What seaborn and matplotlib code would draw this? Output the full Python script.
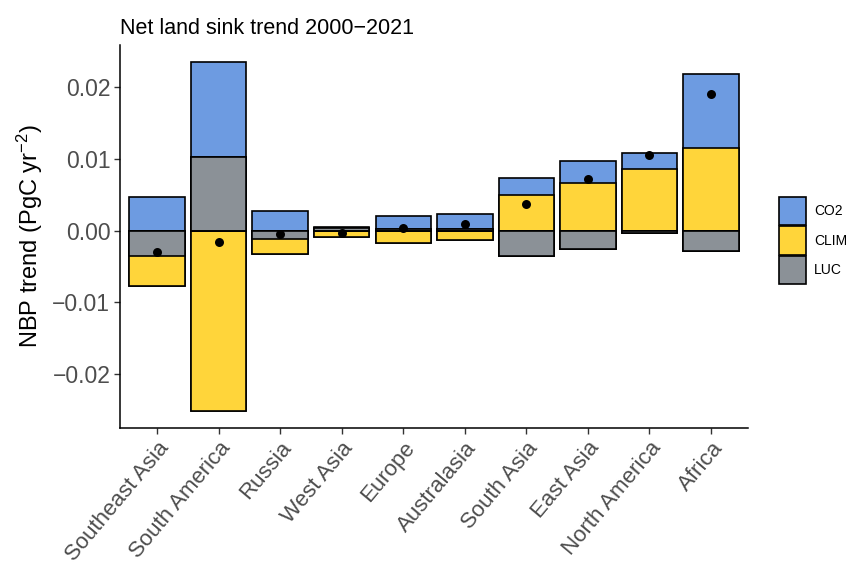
import numpy as np
import pandas as pd
import matplotlib
matplotlib.use("Agg")
import matplotlib.pyplot as plt
import seaborn as sns
from matplotlib.patches import Patch

regions = ["Southeast Asia", "South America", "Russia", "West Asia", "Europe",
           "Australasia", "South Asia", "East Asia", "North America", "Africa"]
co2 = [0.0047, 0.0132, 0.0027, 0.0001, 0.0019, 0.0020, 0.0023, 0.0031, 0.0023, 0.0102]
clim = [-0.0042, -0.0251, -0.0020, -0.0008, -0.0017, -0.0013, 0.0050, 0.0066, 0.0086, 0.0116]
luc = [-0.0035, 0.0103, -0.0012, 0.0004, 0.0002, 0.0003, -0.0035, -0.0025, -0.0003, -0.0028]
components = ["CO2", "CLIM", "LUC"]
colors = {"CO2": "#6d9be1", "CLIM": "#ffd53a", "LUC": "#8b9197"}

sns.set_theme(style="white")
plt.rcParams["font.family"] = ["Liberation Sans", "DejaVu Sans"]
plt.rcParams["mathtext.fontset"] = "custom"
plt.rcParams["mathtext.rm"] = "Liberation Sans"
plt.rcParams["mathtext.it"] = "Liberation Sans:italic"

co2a, clima, luca = np.array(co2), np.array(clim), np.array(luc)
net = co2a + clima + luca

def pos(a):
    return np.clip(a, 0, None)

def neg(a):
    return np.clip(a, None, 0)

# ggplot-style stacking: LUC nearest zero, then CLIM, then CO2
layers = [
    ("CO2", pos(luca) + pos(clima) + pos(co2a), neg(luca) + neg(clima) + neg(co2a)),
    ("CLIM", pos(luca) + pos(clima), neg(luca) + neg(clima)),
    ("LUC", pos(luca), neg(luca)),
]

fig = plt.figure(figsize=(8.58, 5.66), dpi=100)
ax = fig.add_axes([0.1399, 0.2438, 0.8718 - 0.1399, 0.9205 - 0.2438])

for name, ptop, nbot in layers:
    for vals in (ptop, nbot):
        df = pd.DataFrame({"region": regions, "value": vals})
        sns.barplot(data=df, x="region", y="value", order=regions, ax=ax,
                    color=colors[name], saturation=1, width=0.9,
                    edgecolor="black", linewidth=1.2, errorbar=None)

dfn = pd.DataFrame({"region": regions, "net": net})
sns.scatterplot(data=dfn, x="region", y="net", ax=ax, color="black", s=42,
                edgecolor="black", linewidth=0, zorder=5)

ax.set_xlim(-0.6, len(regions) - 0.4)
ax.set_ylim(-0.0275, 0.0259)
ax.set_yticks([-0.02, -0.01, 0.0, 0.01, 0.02])
ax.set_yticklabels(["\u22120.02", "\u22120.01", "0.00", "0.01", "0.02"])
ax.set_xlabel("")
ax.set_ylabel(r"NBP trend (PgC yr$^{-2}$)", fontsize=17, color="black", labelpad=5)
ax.tick_params(axis="y", labelsize=16.5, labelcolor="#4d4d4d", length=4, width=1, color="#333333", left=True, direction="out", pad=3)
ax.tick_params(axis="x", labelsize=16, labelcolor="#4d4d4d", length=4, width=1, color="#333333", bottom=True, direction="out", pad=3)
for lab in ax.get_xticklabels():
    lab.set_rotation(50)
    lab.set_ha("right")
    lab.set_va("top")
    lab.set_rotation_mode("anchor")

for s in ["top", "right"]:
    ax.spines[s].set_visible(False)
for s in ["left", "bottom"]:
    ax.spines[s].set_color("black")
    ax.spines[s].set_linewidth(1.1)

ax.set_title("Net land sink trend 2000\u22122021", loc="left", fontsize=15.5, pad=8, x=0.0, color="black")

handles = [Patch(facecolor=colors[c], edgecolor="black", linewidth=1.2, label=c) for c in components]
leg = fig.legend(handles=handles, loc="center left", bbox_to_anchor=(0.8995, 0.575),
                 frameon=False, fontsize=10, handlelength=2.0, handleheight=2.75,
                 labelspacing=0.08, handletextpad=0.55, borderpad=0)
for t in leg.get_texts():
    t.set_color("black")

fig.savefig("out.png", dpi=100)
